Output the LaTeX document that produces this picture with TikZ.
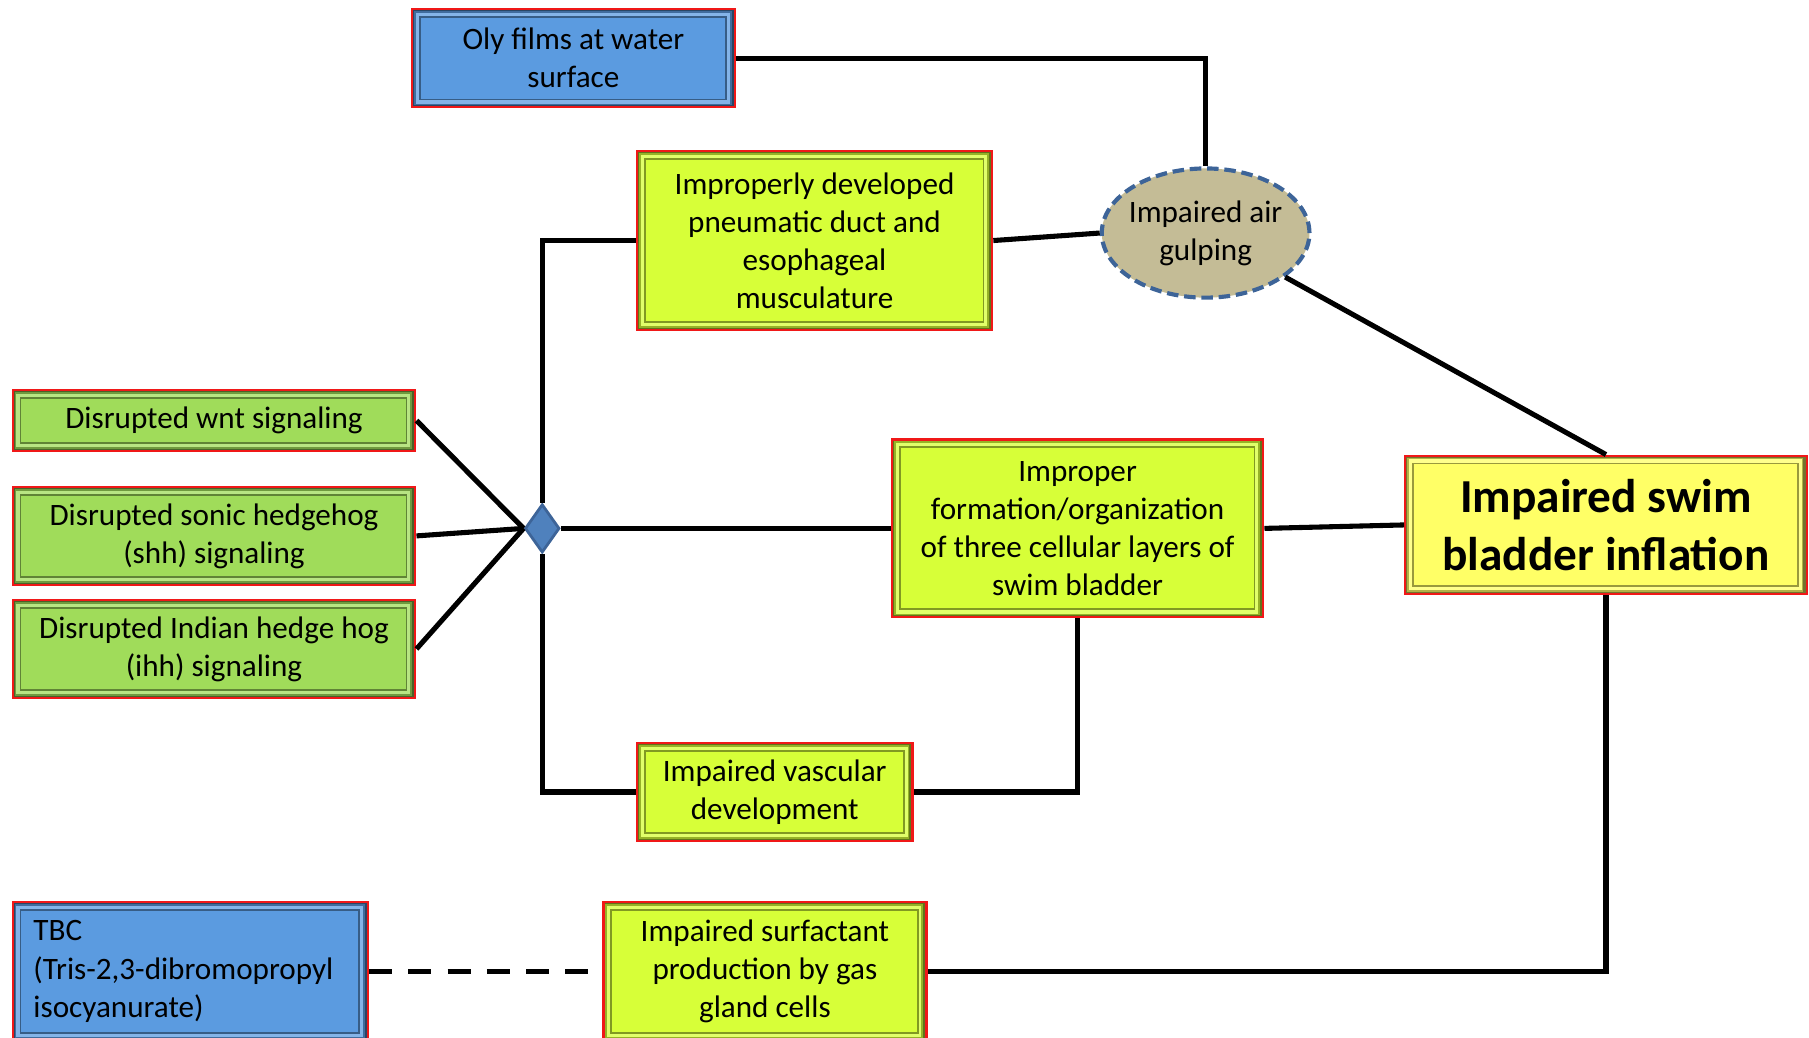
\documentclass[tikz,border=0pt]{standalone}
\usepackage{fontspec}
\setmainfont{Carlito}
\usetikzlibrary{shapes.geometric}
\definecolor{cblue}{HTML}{5B9BE0}
\definecolor{cgreen}{HTML}{A0DC5A}
\definecolor{clime}{HTML}{D7FF38}
\definecolor{cyel}{HTML}{FFFF66}
\definecolor{ctan}{HTML}{C4BC96}
\definecolor{cedge}{HTML}{3D6498}
\definecolor{cdia}{HTML}{4F81BD}
\definecolor{cred}{HTML}{F01818}
\tikzset{
  bevbox/.style={rectangle, draw=cred, line width=1pt, inner sep=0pt, align=center,
    font=\fontsize{13.5pt}{16.5pt}\selectfont,
    path picture={
      \fill[#1!45!black] (path picture bounding box.south west) rectangle (path picture bounding box.north east);
      \fill[#1!70!black] ([shift={(0.8pt,0.8pt)}]path picture bounding box.south west) rectangle ([shift={(-1.4pt,-0.8pt)}]path picture bounding box.north east);
      \fill[#1!75!white] ([shift={(1.6pt,1.6pt)}]path picture bounding box.south west) rectangle ([shift={(-2.2pt,-1.6pt)}]path picture bounding box.north east);
      \fill[#1!60!black] ([shift={(3pt,3pt)}]path picture bounding box.south west) rectangle ([shift={(-3.4pt,-3pt)}]path picture bounding box.north east);
      \fill[#1] ([shift={(3.8pt,3.8pt)}]path picture bounding box.south west) rectangle ([shift={(-4.2pt,-3.8pt)}]path picture bounding box.north east);
    }},
  conn/.style={line width=2.2pt, black},
  airnode/.style={ellipse, fill=ctan, draw=cedge, line width=1.8pt, dash pattern=on 5pt off 2.5pt,
    inner xsep=-6pt, inner ysep=0pt, align=center, font=\fontsize{13.5pt}{16.5pt}\selectfont},
  joint/.style={diamond, fill=cdia, draw=cedge, line width=1.2pt, inner sep=0pt}
}
\begin{document}
\begin{tikzpicture}[x=0.5pt, y=-0.5pt]
\useasboundingbox (0,0) rectangle (1568,899);
\node[bevbox=cblue, minimum width=140pt, minimum height=42.5pt] (oly) at (497,50.5) {Oly films at water\\surface};
\node[bevbox=clime, minimum width=154pt, minimum height=77.5pt] (impd) at (706,208.5) {Improperly developed\\pneumatic duct and\\esophageal\\musculature};
\node[airnode, minimum width=90pt, minimum height=56pt] (air) at (1045,202) {Impaired air\\gulping};
\node[bevbox=cgreen, minimum width=174.5pt, minimum height=26.5pt] (wnt) at (185.5,364.5) {Disrupted wnt signaling};
\node[bevbox=cgreen, minimum width=174.5pt, minimum height=42.5pt] (shh) at (185.5,464.5) {Disrupted sonic hedgehog\\(shh) signaling};
\node[bevbox=cgreen, minimum width=174.5pt, minimum height=42.5pt] (ihh) at (185.5,562.5) {Disrupted Indian hedge hog\\(ihh) signaling};
\node[joint, minimum width=15pt, minimum height=21pt] (dia) at (470,458) {};
\node[bevbox=clime, minimum width=161pt, minimum height=77pt] (impr) at (934,458) {Improper\\formation/organization\\of three cellular layers of\\swim bladder};
\node[bevbox=cyel, minimum width=174pt, minimum height=60pt, font=\bfseries\fontsize{20.5pt}{25pt}\selectfont] (swim) at (1392,455) {Impaired swim\\bladder inflation};
\node[bevbox=clime, minimum width=119.5pt, minimum height=42.5pt] (vasc) at (671.5,686.5) {Impaired vascular\\development};
\node[bevbox=cblue, minimum width=154pt, minimum height=60pt, text width=136pt, align=left] (tbc) at (165,842) {TBC\\(Tris-2,3-dibromopropyl\\isocyanurate)};
\node[bevbox=clime, minimum width=140pt, minimum height=60pt] (surf) at (663,842) {Impaired surfactant\\production by gas\\gland cells};
\draw[conn] (oly.east) -| (air.north);
\draw[conn] (impd.east) -- (air.west);
\draw[conn] (air) -- (swim.north);
\draw[conn] (wnt.east) -- (dia.west);
\draw[conn] (shh.east) -- (dia.west);
\draw[conn] (ihh.east) -- (dia.west);
\draw[conn] (dia.north) |- (impd.west);
\draw[conn] (dia.east) -- (impr.west);
\draw[conn] (dia.south) |- (vasc.west);
\draw[conn] (impr.east) -- (swim.west);
\draw[conn] (impr.south) |- (vasc.east);
\draw[conn] (swim.south) |- (surf.east);
\draw[conn, line width=2.5pt, dash pattern=on 10pt off 7pt] (tbc.east) -- (surf.west);
\end{tikzpicture}
\end{document}
